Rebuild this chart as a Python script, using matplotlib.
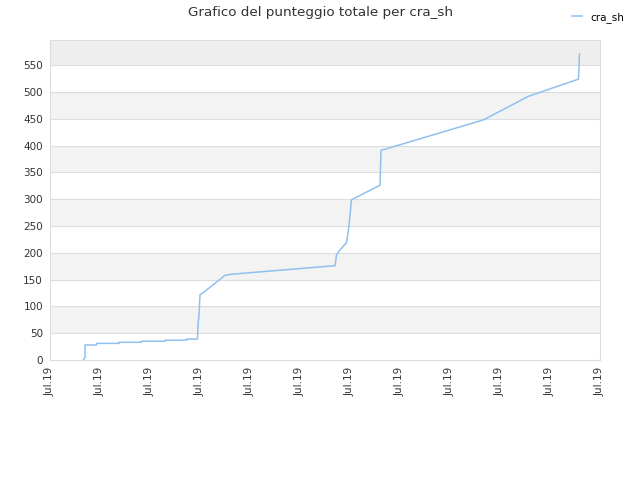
import matplotlib.pyplot as plt

# Data (x in tick units, 0..11, all labelled "Jul.19")
x_pos = [0.667, 0.70, 0.70, 0.93, 0.93, 1.38, 1.38, 1.83, 1.83, 2.30, 2.30,
         2.73, 2.73, 2.95, 2.96, 2.98, 3.00, 3.07, 3.50, 3.63, 5.70, 5.73,
         5.78, 5.93, 5.97, 6.03, 6.60, 6.61, 6.62, 8.67, 9.57, 10.57, 10.58,
         10.59]
score = [0, 5, 28, 28, 31, 31, 33, 33, 35, 35, 37, 37, 39, 39, 65, 84, 122,
         126, 158, 160, 176, 196, 203, 219, 243, 299, 326, 360, 391, 448, 492,
         524, 546, 571]
tick_labels = ["Jul.19"] * 12

fig = plt.figure(figsize=(6.4, 4.8), dpi=100)
ax = fig.add_axes([50 / 640, 1 - 360 / 480, 550 / 640, 320 / 480])

# alternating bands
for lo in range(50, 600, 100):
    ax.axhspan(lo, lo + 50, color="#eeeeee" if lo == 550 else "#f3f3f3", zorder=0, lw=0)
for yv in range(50, 600, 50):
    ax.axhline(yv, color="#dddddd", lw=0.8, zorder=1)

ax.plot(x_pos, score, color="#90c0f0", lw=1.1, label="cra_sh", zorder=3)

ax.set_xlim(0, 11)
ax.set_ylim(0, 597)
ax.set_yticks(range(0, 600, 50))
ax.set_xticks(range(12))
ax.set_xticklabels(tick_labels, rotation=90)
ax.tick_params(length=0, labelsize=7.5, colors="#333333", pad=5)
for s in ax.spines.values():
    s.set_color("#dddddd")

fig.suptitle("Grafico del punteggio totale per cra_sh", fontsize=9.7, color="#333333", y=0.988)
fig.legend(loc="upper right", bbox_to_anchor=(0.99, 0.995), frameon=False, fontsize=7.5,
           handlelength=1.0, handletextpad=0.8)

fig.savefig("out.png")
